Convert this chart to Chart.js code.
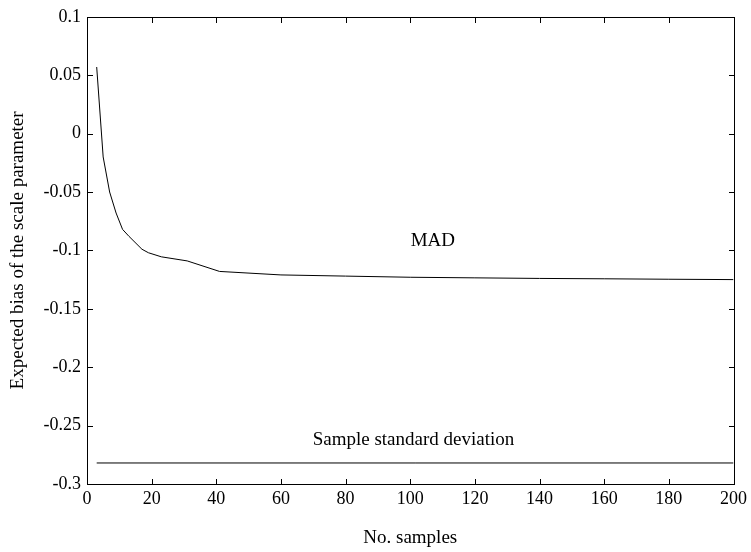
<!DOCTYPE html>
<html>
<head>
<meta charset="utf-8">
<script src="https://cdn.jsdelivr.net/npm/chart.js@4.4.0/dist/chart.umd.min.js"></script>
<style>
  html, body { margin: 0; padding: 0; background: #fff; }
</style>
</head>
<body>
<canvas id="grafico" width="751" height="552"></canvas>
<script>
// valores
const madX = [3, 5, 7, 9, 11, 13, 17, 19, 23, 31, 41, 60, 80, 100, 120, 140, 160, 180, 200];
const madY = [0.057, -0.020, -0.050, -0.068, -0.082, -0.088, -0.099, -0.102, -0.1055, -0.109, -0.118, -0.121, -0.122, -0.123, -0.1235, -0.124, -0.1243, -0.1247, -0.125];
const sdX = [3, 200];
const sdY = [-0.282, -0.282];

const xTicks = [0, 20, 40, 60, 80, 100, 120, 140, 160, 180, 200];
const yTicks = [0.1, 0.05, 0, -0.05, -0.1, -0.15, -0.2, -0.25, -0.3];

// textos dentro do gráfico (posição em coordenadas de dados)
const notas = [
    { texto: 'MAD', x: 107, y: -0.092 },
    { texto: 'Sample standard deviation', x: 101, y: -0.262 }
];

const fonte = "'Liberation Serif', 'Times New Roman', serif";

// moldura + ticks para dentro nos 4 lados
const moldura = {
    id: 'moldura',
    afterDraw(chart) {
        const c = chart.ctx;
        const a = chart.chartArea;
        const sx = chart.scales.x, sy = chart.scales.y;
        const L = Math.round(a.left), R = Math.round(a.right);
        const T = Math.round(a.top), B = Math.round(a.bottom);
        c.save();
        c.strokeStyle = '#000';
        c.lineWidth = 1;
        c.strokeRect(L + 0.5, T + 0.5, R - L, B - T);

        const len = 6;
        c.fillStyle = '#000';
        for (let i = 0; i < xTicks.length; i++) {
            const px = Math.round(sx.getPixelForValue(xTicks[i]));
            c.fillRect(px, B - len + 1, 1, len);
            c.fillRect(px, T, 1, len);
        }
        for (let i = 0; i < yTicks.length; i++) {
            const py = Math.round(sy.getPixelForValue(yTicks[i]));
            c.fillRect(L, py, len, 1);
            c.fillRect(R - len + 1, py, len, 1);
        }

        c.font = '19px ' + fonte;
        c.textAlign = 'center';
        c.textBaseline = 'middle';
        notas.forEach(n => {
            c.fillText(n.texto, sx.getPixelForValue(n.x), sy.getPixelForValue(n.y));
        });
        c.restore();
    }
};

new Chart(document.getElementById('grafico'), {
    type: 'line',
    data: {
        datasets: [
            {
                label: 'MAD',
                data: madX.map((x, i) => ({ x: x, y: madY[i] })),
                borderColor: '#000',
                borderWidth: 1,
                pointRadius: 0,
                tension: 0
            },
            {
                label: 'Sample standard deviation',
                data: sdX.map((x, i) => ({ x: x, y: sdY[i] })),
                borderColor: '#000',
                borderWidth: 1,
                pointRadius: 0,
                tension: 0
            }
        ]
    },
    options: {
        responsive: false,
        animation: false,
        layout: { padding: { top: 14, right: 16, left: 0, bottom: 0 } },
        plugins: {
            legend: { display: false },
            tooltip: { enabled: false }
        },
        scales: {
            x: {
                type: 'linear',
                min: 0,
                max: 200,
                afterFit: s => { s.height = 68; },
                afterBuildTicks: s => { s.ticks = xTicks.map(v => ({ value: v })); },
                grid: { display: false, drawTicks: false, tickLength: 0 },
                border: { display: false },
                ticks: {
                    color: '#000',
                    padding: 4,
                    maxRotation: 0,
                    font: { family: fonte, size: 18 },
                    callback: v => String(v)
                },
                title: {
                    display: true,
                    text: 'No. samples',
                    color: '#000',
                    font: { family: fonte, size: 19 },
                    padding: { top: 0, bottom: 3 }
                }
            },
            y: {
                type: 'linear',
                min: -0.3,
                max: 0.1,
                afterFit: s => { s.width = 87; },
                afterBuildTicks: s => { s.ticks = yTicks.map(v => ({ value: v })); },
                grid: { display: false, drawTicks: false, tickLength: 0 },
                border: { display: false },
                ticks: {
                    color: '#000',
                    padding: 6,
                    font: { family: fonte, size: 18 },
                    callback: v => String(Number(v.toFixed(2)))
                },
                title: {
                    display: true,
                    text: 'Expected bias of the scale parameter',
                    color: '#000',
                    font: { family: fonte, size: 19 },
                    padding: { top: 7, bottom: 0 }
                }
            }
        }
    },
    plugins: [moldura]
});
</script>
</body>
</html>
